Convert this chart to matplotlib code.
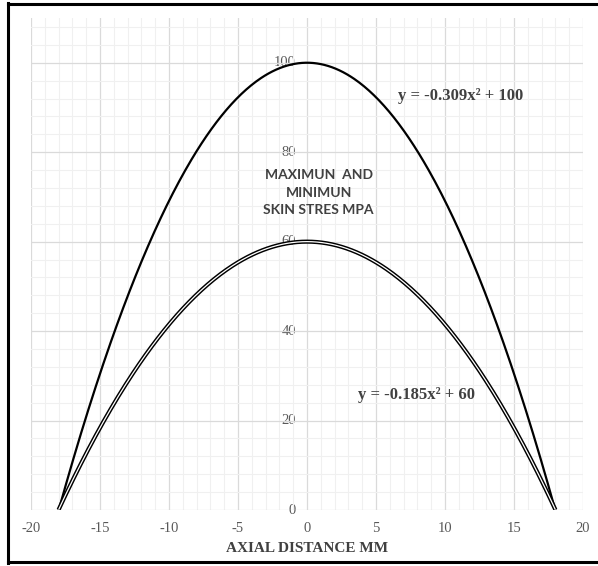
import numpy as np
import matplotlib
matplotlib.use("Agg")
import matplotlib.pyplot as plt
from matplotlib.lines import Line2D

# Trendline coefficients (y = a*x^2 + c) for the two stress envelopes
max_coef = [-0.309, 100]
min_coef = [-0.185, 60]
x_span = [-18, 18]

x_ticks = [-20, -15, -10, -5, 0, 5, 10, 15, 20]
y_ticks = [0, 20, 40, 60, 80, 100]
x_label = "AXIAL DISTANCE MM"
title_lines = ["MAXIMUN  AND", "MINIMUN", "SKIN STRES MPA"]

fig = plt.figure(figsize=(5.98, 5.66), dpi=100)
ax = fig.add_axes([31 / 598, 1 - 510 / 566, 552 / 598, 492 / 566])

ax.set_xlim(-20, 20)
ax.set_ylim(0, 110)

# grid: major every 5 / 20, minor every 1 / 4
ax.set_xticks(x_ticks)
ax.set_yticks(y_ticks)
ax.set_xticks(np.arange(-20, 21, 1), minor=True)
ax.set_yticks(np.arange(0, 111, 4), minor=True)
ax.grid(which="major", color="#dadada", lw=0.9, zorder=0)
ax.grid(which="minor", color="#f0f0f0", lw=0.8, zorder=0)
for s in ax.spines.values():
    s.set_visible(False)
ax.tick_params(which="both", length=0)
ax.set_yticklabels([])

tick_font = dict(family="Liberation Serif", size=10.5, color="#595959")
ax.set_xticklabels([str(v) for v in x_ticks], **tick_font)
ax.tick_params(axis="x", pad=9)

# y labels sit beside the vertical axis at x = 0
for v in y_ticks:
    ax.annotate(str(v), xy=(0, v), xytext=(-8, 0), textcoords="offset points",
                ha="right", va="center", zorder=1, **tick_font)

x = np.linspace(x_span[0], x_span[1], 401)
y_max = max_coef[0] * x ** 2 + max_coef[1]
y_min = min_coef[0] * x ** 2 + min_coef[1]

ax.plot(x, y_max, color="black", lw=1.6, zorder=3, solid_capstyle="butt")
ax.plot(x, y_min, color="black", lw=3.0, zorder=3, solid_capstyle="butt")
ax.plot(x, y_min, color="white", lw=0.9, zorder=4, solid_capstyle="butt")

eq_font = dict(family="Liberation Serif", size=12, weight="bold", color="#404040")
ax.text(6.6, 92.6, f"y = {max_coef[0]}x\u00b2 + {max_coef[1]}", ha="left", va="center", **eq_font)
ax.text(3.7, 25.7, f"y = {min_coef[0]}x\u00b2 + {min_coef[1]}", ha="left", va="center", **eq_font)

ax.text(0.85, 70.9, "\n".join(title_lines), ha="center", va="center",
        family="Lato", weight="bold", size=10, color="#404040", linespacing=1.55)

fig.text(307 / 598, 1 - 548 / 566, x_label, ha="center", va="center",
         family="Liberation Serif", weight="bold", size=11, color="#404040")

# outer frame (left, top, bottom)
fw = 2.2
fig.add_artist(Line2D([8 / 598, 8 / 598], [1 - 3 / 566, 1 - 563 / 566], color="black", lw=fw, transform=fig.transFigure))
fig.add_artist(Line2D([8 / 598, 1.0], [1 - 4 / 566, 1 - 4 / 566], color="black", lw=fw, transform=fig.transFigure))
fig.add_artist(Line2D([8 / 598, 1.0], [1 - 562 / 566, 1 - 562 / 566], color="black", lw=fw, transform=fig.transFigure))

fig.savefig("out.png", dpi=100)
